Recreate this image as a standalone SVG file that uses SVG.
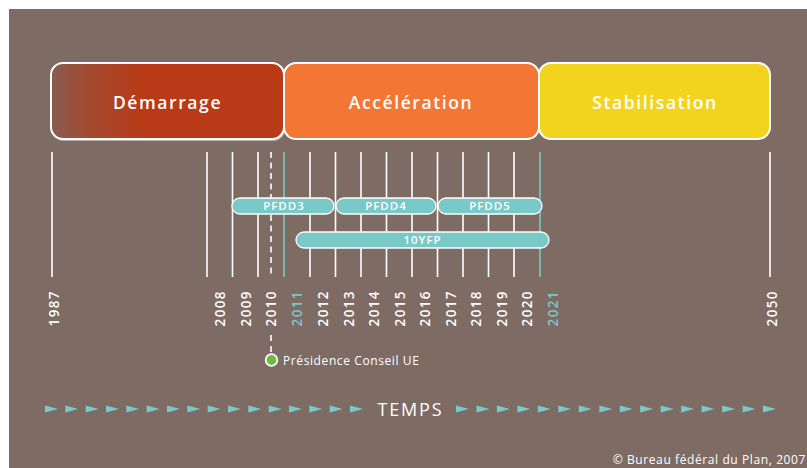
<svg xmlns="http://www.w3.org/2000/svg" width="807" height="468" viewBox="0 0 807 468">
<defs>
<linearGradient id="gDem" x1="51" y1="0" x2="284" y2="0" gradientUnits="userSpaceOnUse">
<stop offset="0" stop-color="#8a5c4f"/>
<stop offset="0.18" stop-color="#a4482e"/>
<stop offset="0.4" stop-color="#b93a17"/>
<stop offset="1" stop-color="#b93a17"/>
</linearGradient>
<polygon id="tri" points="0,-3.5 13,0 0,3.5" fill="#78c9c8"/>
<style>
.phase{stroke:#ffffff;stroke-width:2}
.shadow{fill:#bdb0aa}
.ptxt{font-family:"Open Sans","DejaVu Sans",sans-serif;font-size:17.5px;font-weight:600;fill:#ffffff;text-anchor:middle;letter-spacing:1.6px}
.tick{stroke:#ffffff;stroke-width:1.6}
.tickT{stroke:#78c9c8;stroke-width:1.6}
.pill{fill:#78c9c8;stroke:#ffffff;stroke-width:1.3}
.pilltxt{font-family:"Open Sans","DejaVu Sans",sans-serif;font-size:11.5px;font-weight:600;fill:#ffffff;text-anchor:middle;letter-spacing:1px}
.yr{font-family:"Open Sans","DejaVu Sans",sans-serif;font-size:13.5px;font-weight:600;fill:#ffffff;text-anchor:end;letter-spacing:1.4px}
.yrT{fill:#78c9c8}
.small{font-family:"Open Sans","DejaVu Sans",sans-serif;font-size:12px;font-weight:500;fill:#ffffff;letter-spacing:0.6px}
</style>
</defs>
<rect x="0" y="0" width="807" height="468" fill="#ffffff"/>
<rect x="9" y="9" width="798" height="459" fill="#7e6b64"/>

<g id="phase-demarrage">
<rect class="shadow" x="52" y="65" width="233" height="76" rx="12"/>
<rect class="phase" x="51" y="63" width="233" height="76" rx="12" fill="url(#gDem)"/>
<text class="ptxt" x="167.5" y="109">Démarrage</text>
</g>
<g id="phase-acceleration">
<rect class="phase" x="284" y="63" width="255" height="76" rx="12" fill="#f47634"/>
<text class="ptxt" x="411" y="109">Accélération</text>
</g>
<g id="phase-stabilisation">
<rect class="phase" x="539" y="63" width="231" height="76" rx="12" fill="#f2d41f"/>
<text class="ptxt" x="655" y="109">Stabilisation</text>
</g>

<g id="ticks">
<line class="tick" x1="52" y1="152" x2="52" y2="277"/>
<line class="tick" x1="207" y1="152" x2="207" y2="277"/>
<line class="tick" x1="232.5" y1="152" x2="232.5" y2="277"/>
<line class="tick" x1="258" y1="152" x2="258" y2="277"/>
<line class="tickT" x1="284" y1="152" x2="284" y2="277"/>
<line class="tick" x1="310" y1="152" x2="310" y2="277"/>
<line class="tick" x1="335.5" y1="152" x2="335.5" y2="277"/>
<line class="tick" x1="361" y1="152" x2="361" y2="277"/>
<line class="tick" x1="386.5" y1="152" x2="386.5" y2="277"/>
<line class="tick" x1="412" y1="152" x2="412" y2="277"/>
<line class="tick" x1="437.5" y1="152" x2="437.5" y2="277"/>
<line class="tick" x1="463" y1="152" x2="463" y2="277"/>
<line class="tick" x1="488.5" y1="152" x2="488.5" y2="277"/>
<line class="tick" x1="514" y1="152" x2="514" y2="277"/>
<line class="tickT" x1="540" y1="152" x2="540" y2="277"/>
<line class="tick" x1="770" y1="152" x2="770" y2="277"/>
<line class="tick" x1="271" y1="152" x2="271" y2="277" stroke-dasharray="6,4.5" stroke-width="1.3"/>
<line class="tick" x1="271" y1="335" x2="271" y2="353" stroke-dasharray="6,5" stroke-width="1.3"/>
</g>

<g id="years">
<text class="yr" transform="translate(59,290) rotate(-90)">1987</text>
<text class="yr" transform="translate(225,290) rotate(-90)">2008</text>
<text class="yr" transform="translate(250.5,290) rotate(-90)">2009</text>
<text class="yr" transform="translate(276,290) rotate(-90)">2010</text>
<text class="yr yrT" transform="translate(302,290) rotate(-90)">2011</text>
<text class="yr" transform="translate(328,290) rotate(-90)">2012</text>
<text class="yr" transform="translate(353.5,290) rotate(-90)">2013</text>
<text class="yr" transform="translate(379,290) rotate(-90)">2014</text>
<text class="yr" transform="translate(404.5,290) rotate(-90)">2015</text>
<text class="yr" transform="translate(430,290) rotate(-90)">2016</text>
<text class="yr" transform="translate(455.5,290) rotate(-90)">2017</text>
<text class="yr" transform="translate(481,290) rotate(-90)">2018</text>
<text class="yr" transform="translate(506.5,290) rotate(-90)">2019</text>
<text class="yr" transform="translate(532,290) rotate(-90)">2020</text>
<text class="yr yrT" transform="translate(558,290) rotate(-90)">2021</text>
<text class="yr" transform="translate(777,290) rotate(-90)">2050</text>
</g>

<g id="pfdd3">
<rect class="pill" x="232" y="198" width="102" height="16" rx="8"/>
<text class="pilltxt" x="284" y="210">PFDD3</text>
</g>
<g id="pfdd4">
<rect class="pill" x="336" y="198" width="100" height="16" rx="8"/>
<text class="pilltxt" x="386" y="210">PFDD4</text>
</g>
<g id="pfdd5">
<rect class="pill" x="438" y="198" width="104" height="16" rx="8"/>
<text class="pilltxt" x="490" y="210">PFDD5</text>
</g>
<g id="10yfp">
<rect class="pill" x="296" y="232" width="253" height="16" rx="8"/>
<text class="pilltxt" x="422.5" y="244">10YFP</text>
</g>

<g id="presidence">
<circle cx="271.5" cy="360" r="5.8" fill="#6cbd3f" stroke="#ffffff" stroke-width="1.8"/>
<text class="small" x="283" y="365">Présidence Conseil UE</text>
</g>

<g id="temps">
<use href="#tri" x="45" y="409"/>
<use href="#tri" x="65.3" y="409"/>
<use href="#tri" x="85.7" y="409"/>
<use href="#tri" x="106" y="409"/>
<use href="#tri" x="126.3" y="409"/>
<use href="#tri" x="146.7" y="409"/>
<use href="#tri" x="167" y="409"/>
<use href="#tri" x="187.3" y="409"/>
<use href="#tri" x="207.7" y="409"/>
<use href="#tri" x="228" y="409"/>
<use href="#tri" x="248.3" y="409"/>
<use href="#tri" x="268.7" y="409"/>
<use href="#tri" x="289" y="409"/>
<use href="#tri" x="309.3" y="409"/>
<use href="#tri" x="329.7" y="409"/>
<use href="#tri" x="350" y="409"/>
<text x="410.5" y="415.5" font-family="'Open Sans','DejaVu Sans',sans-serif" font-size="18" fill="#ffffff" text-anchor="middle" letter-spacing="1.8">TEMPS</text>
<use href="#tri" x="456" y="409"/>
<use href="#tri" x="476.5" y="409"/>
<use href="#tri" x="496.9" y="409"/>
<use href="#tri" x="517.4" y="409"/>
<use href="#tri" x="537.9" y="409"/>
<use href="#tri" x="558.3" y="409"/>
<use href="#tri" x="578.8" y="409"/>
<use href="#tri" x="599.3" y="409"/>
<use href="#tri" x="619.8" y="409"/>
<use href="#tri" x="640.2" y="409"/>
<use href="#tri" x="660.7" y="409"/>
<use href="#tri" x="681.2" y="409"/>
<use href="#tri" x="701.6" y="409"/>
<use href="#tri" x="722.1" y="409"/>
<use href="#tri" x="742.6" y="409"/>
<use href="#tri" x="763" y="409"/>
</g>

<text class="small" x="806" y="464" text-anchor="end" font-size="12.5" letter-spacing="0.8">© Bureau fédéral du Plan, 2007</text>
</svg>
